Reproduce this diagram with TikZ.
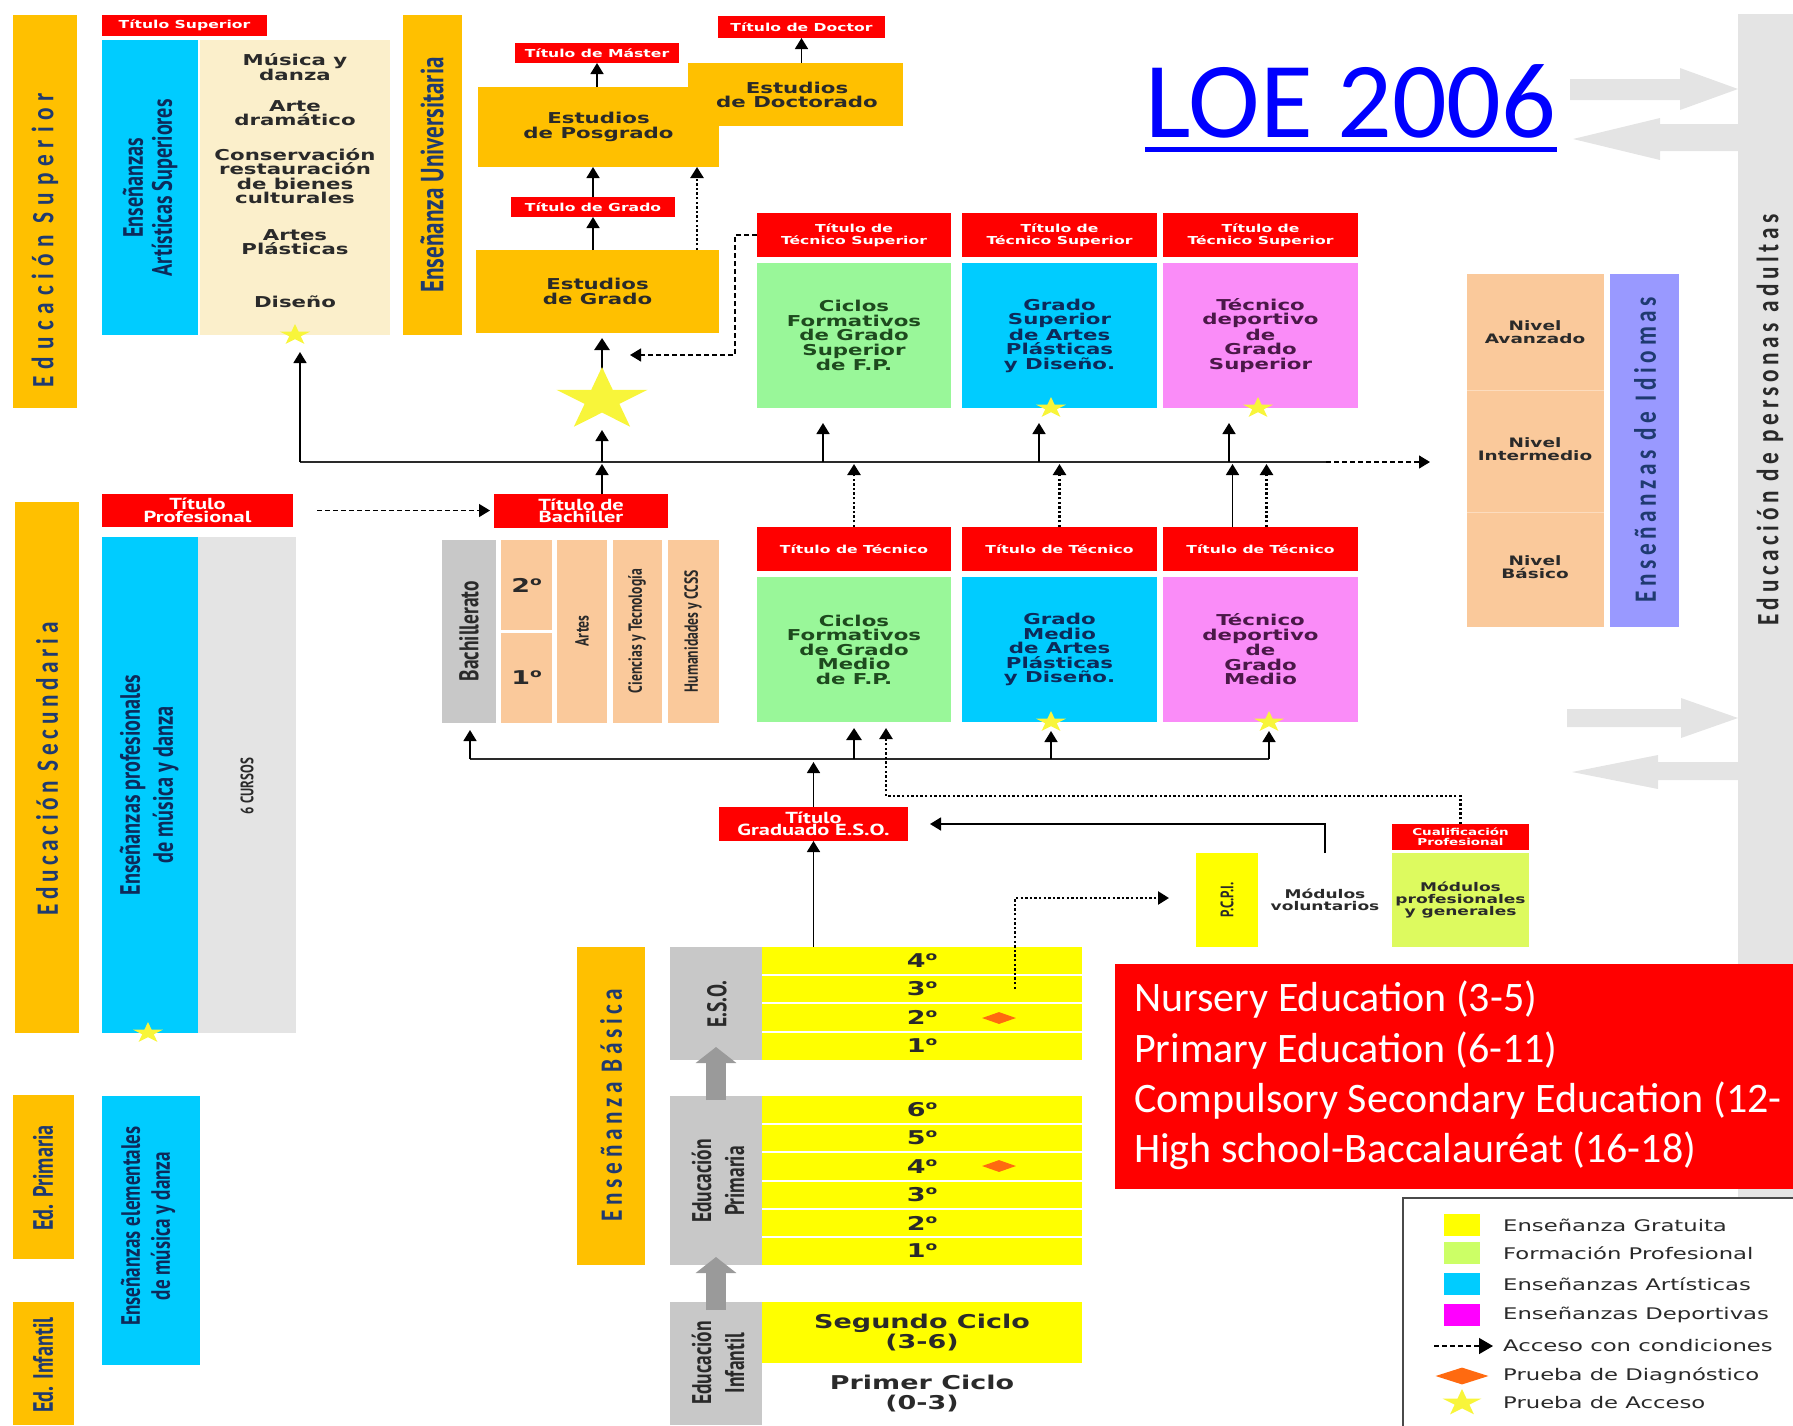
\documentclass[tikz,border=0pt]{standalone}
\usepackage{fontspec}
\usetikzlibrary{arrows.meta,calc,shapes.geometric}

\newfontfamily\vfont[FakeStretch=1.42]{DejaVu Sans}
\newfontfamily\mfont[FakeStretch=1.4]{PT Sans}
\newfontfamily\cfont[FakeStretch=0.72]{PT Sans}
\newfontfamily\sfont[FakeStretch=0.75,LetterSpace=15]{Carlito}
\newfontfamily\sfontw[FakeStretch=0.75,LetterSpace=22]{Carlito}
\newfontfamily\calfont{Carlito}
\newcommand\fsz[2]{\fontsize{#1}{#2}\selectfont}
% raised ordinal "o" without the underline of the font's own glyph
\newcommand\ordo{\raisebox{7pt}{\fontsize{12}{12}\selectfont o}}

\definecolor{goldc}{HTML}{FFC000}
\definecolor{redc}{HTML}{FF0000}
\definecolor{cyanc}{HTML}{00CCFF}
\definecolor{creamc}{HTML}{FBEFCB}
\definecolor{greenc}{HTML}{99F799}
\definecolor{pinkc}{HTML}{FA8CF8}
\definecolor{peachc}{HTML}{FAC99B}
\definecolor{purplec}{HTML}{9999FF}
\definecolor{yellowc}{HTML}{FFFF00}
\definecolor{ygc}{HTML}{DDFA5F}
\definecolor{greyc}{HTML}{C8C8C8}
\definecolor{lgreyc}{HTML}{E4E4E4}
\definecolor{arrgrey}{HTML}{9A9A9A}
\definecolor{navyc}{HTML}{1F3A70}
\definecolor{darkc}{HTML}{2A2A2A}
\definecolor{dgreen}{HTML}{1E4A1E}
\definecolor{dblue}{HTML}{0D2A5A}
\definecolor{dpurple}{HTML}{4A1848}
\definecolor{starc}{HTML}{F8F53A}
\definecolor{diamc}{HTML}{FF6A10}
\definecolor{loeblue}{HTML}{0000FF}
\definecolor{fpc}{HTML}{CCFF66}
\definecolor{magc}{HTML}{FF00FF}

% box from corner (x1,y1) to (x2,y2), y measured downwards
\newcommand\bx[7]{\node[bx,#6,minimum width={(#4-#2)*1pt},minimum height={(#5-#3)*1pt}] (#1) at (#2,#3) {#7};}

\tikzset{
  bx/.style={anchor=north west,inner sep=0pt,outer sep=0pt},
  redt/.style={fill=redc,text=white,align=center,font=\vfont\bfseries\fsz{11}{11.5}},
  redm/.style={fill=redc,text=white,align=center,font=\mfont\bfseries\fsz{16}{12.5}},
  boxt/.style={align=center,font=\vfont\bfseries\fsz{15}{14.5}},
  yrow/.style={fill=yellowc,text=darkc,font=\vfont\bfseries\fsz{19}{19}},
  rotc/.style={rotate=90,align=center,inner sep=0pt},
  spaced/.style={rotate=90,inner sep=0pt,text=navyc,font=\sfont\bfseries\fsz{31}{31}},
  lgt/.style={anchor=west,inner sep=0pt,text=darkc,font=\vfont\fsz{16}{16}},
  arr/.style={-{Triangle[width=13pt,length=11pt]},line width=1.6pt},
  arrk/.style={-{Triangle[width=15pt,length=12pt]},line width=2.8pt},
  dotl/.style={line width=2.4pt,dash pattern=on 2.4pt off 2.2pt},
  dashl/.style={line width=1.3pt,dash pattern=on 5pt off 3pt},
  pics/ystar/.style={code={
    \fill[starc,xscale=1.45] (-90:#1) -- (-54:{0.382*#1}) -- (-18:#1) -- (18:{0.382*#1})
      -- (54:#1) -- (90:{0.382*#1}) -- (126:#1) -- (162:{0.382*#1}) -- (198:#1)
      -- (234:{0.382*#1}) -- cycle;}}
}

\begin{document}
\begin{tikzpicture}[x=1pt,y=-1pt]
\useasboundingbox (0,0) rectangle (1793,1425);

% ---------- adult education column ----------
\bx{adult}{1738}{14}{1793}{1200}{fill=lgreyc}{}
\node[spaced,text=darkc] (adultT) at (1770,420) {Educación de personas adultas};
\fill[lgreyc] (1570,79) -- (1680,79) -- (1680,68) -- (1738,89) -- (1680,110) -- (1680,100) -- (1570,100) -- cycle;
\fill[lgreyc] (1738,124) -- (1660,124) -- (1660,118) -- (1573,139) -- (1660,160) -- (1660,151) -- (1738,151) -- cycle;
\fill[lgreyc] (1567,709) -- (1681,709) -- (1681,698) -- (1738,718) -- (1681,738) -- (1681,727) -- (1567,727) -- cycle;
\fill[lgreyc] (1738,762) -- (1658,762) -- (1658,755) -- (1572,772) -- (1658,789) -- (1658,780) -- (1738,780) -- cycle;

% ---------- higher education ----------
\bx{supBar}{13}{15}{77}{408}{fill=goldc}{}
\node[spaced,font=\sfontw\bfseries\fsz{31}{31}] (supT) at (45,240) {Educación Superior};
\bx{tSup}{102}{15}{267}{36}{redt}{Título Superior}
\bx{artSup}{102}{40}{198}{335}{fill=cyanc}{}
\node[rotc,text=dblue,font=\cfont\bfseries\fsz{28}{29}] (artSupT) at (150,188) {Enseñanzas\\Artísticas Superiores};
\bx{artList}{200}{40}{390}{335}{fill=creamc}{}
\node[boxt,text=darkc] (mus) at (295,67) {Música y\\danza};
\node[boxt,text=darkc] (dram) at (295,113) {Arte\\dramático};
\node[boxt,text=darkc] (cons) at (295,176) {Conservación\\restauración\\de bienes\\culturales};
\node[boxt,text=darkc] (plas) at (295,242) {Artes\\Plásticas};
\node[boxt,text=darkc] (dis) at (295,302) {Diseño};

\bx{uniBar}{403}{15}{462}{335}{fill=goldc}{}
\node[rotc,text=navyc,font=\cfont\bfseries\fsz{32}{32}] (uniT) at (432,175) {Enseñanza Universitaria};

\bx{tDoctor}{718}{16}{885}{38}{redt}{Título de Doctor}
\bx{tMaster}{515}{43}{679}{63}{redt}{Título de Máster}
\bx{doct}{688}{63}{903}{126}{fill=goldc}{}
\bx{posg}{478}{87}{719}{167}{fill=goldc,boxt,text=darkc}{Estudios\\de Posgrado}
\node[boxt,text=darkc] (doctT) at (797,95) {Estudios\\de Doctorado};
\bx{tGrado}{511}{197}{675}{217}{redt}{Título de Grado}
\bx{grado}{476}{250}{719}{333}{fill=goldc,boxt,text=darkc}{Estudios\\de Grado}

\bx{tTS1}{757}{213}{951}{257}{redt}{Título de\\Técnico Superior}
\bx{tTS2}{962}{213}{1157}{257}{redt}{Título de\\Técnico Superior}
\bx{tTS3}{1163}{213}{1358}{257}{redt}{Título de\\Técnico Superior}
\bx{cfgs}{757}{263}{951}{408}{fill=greenc,boxt,text=dgreen}{Ciclos\\Formativos\\de Grado\\Superior\\de F.P.}
\bx{gsap}{962}{263}{1157}{408}{fill=cyanc,boxt,text=dblue}{Grado\\Superior\\de Artes\\Plásticas\\y Diseño.}
\bx{tdgs}{1163}{263}{1358}{408}{fill=pinkc,boxt,text=dpurple}{Técnico\\deportivo\\de\\Grado\\Superior}

% ---------- languages ----------
\bx{idio}{1467}{274}{1604}{627}{fill=peachc}{}
\draw[white!35!peachc,line width=1pt] (1467,390) -- (1604,390) (1467,512) -- (1604,512);
\node[font=\vfont\bfseries\fsz{13}{13},align=center,text=darkc] (nAv) at (1535,332) {Nivel\\Avanzado};
\node[font=\vfont\bfseries\fsz{13}{13},align=center,text=darkc] (nIn) at (1535,449) {Nivel\\Intermedio};
\node[font=\vfont\bfseries\fsz{13}{13},align=center,text=darkc] (nBa) at (1535,567) {Nivel\\Básico};
\bx{idiBar}{1610}{274}{1679}{627}{fill=purplec}{}
\node[spaced] (idiT) at (1645,450) {Enseñanzas de Idiomas};

% ---------- title ----------
\node[font=\calfont\fsz{108}{108},text=loeblue,inner sep=0pt,anchor=base] (loe) at (1351,137) {LOE 2006};
\draw[loeblue,line width=5pt] ($(loe.base west)+(0,12)$) -- ($(loe.base east)+(0,12)$);

% ---------- secondary education ----------
\bx{secBar}{15}{502}{79}{1033}{fill=goldc}{}
\node[spaced] (secT) at (47,769) {Educación Secundaria};
\bx{tProf}{102}{494}{293}{527}{redm}{Título\\Profesional}
\bx{epmd}{102}{537}{198}{1033}{fill=cyanc}{}
\node[rotc,text=dblue,font=\cfont\bfseries\fsz{28}{33}] (epmdT) at (149,785) {Enseñanzas profesionales\\de música y danza};
\bx{cursos}{198}{537}{296}{1033}{fill=lgreyc}{}
\node[rotc,text=darkc,font=\cfont\bfseries\fsz{18}{18}] (cursosT) at (247,786) {6 CURSOS};

\bx{tBach}{494}{494}{668}{528}{redm}{Título de\\Bachiller}
\bx{bach}{442}{540}{496}{723}{fill=greyc}{}
\node[rotc,text=darkc,font=\cfont\bfseries\fsz{27}{27}] (bachT) at (469,631) {Bachillerato};
\bx{b2}{501}{540}{552}{630}{fill=peachc,text=darkc,font=\vfont\bfseries\fsz{19}{19}}{2\ordo}
\bx{b1}{501}{633}{552}{723}{fill=peachc,text=darkc,font=\vfont\bfseries\fsz{19}{19}}{1\ordo}
\bx{artes}{557}{540}{607}{723}{fill=peachc}{}
\node[rotc,text=darkc,font=\cfont\bfseries\fsz{19}{19}] (artesT) at (582,631) {Artes};
\bx{cyt}{613}{540}{662}{723}{fill=peachc}{}
\node[rotc,text=darkc,font=\cfont\bfseries\fsz{19}{19}] (cytT) at (637,631) {Ciencias y Tecnología};
\bx{hcs}{668}{540}{719}{723}{fill=peachc}{}
\node[rotc,text=darkc,font=\cfont\bfseries\fsz{19}{19}] (hcsT) at (693,631) {Humanidades y CCSS};

\bx{tT1}{757}{527}{951}{571}{redt}{Título de Técnico}
\bx{tT2}{962}{527}{1157}{571}{redt}{Título de Técnico}
\bx{tT3}{1163}{527}{1358}{571}{redt}{Título de Técnico}
\bx{cfgm}{757}{577}{951}{722}{fill=greenc,boxt,text=dgreen}{Ciclos\\Formativos\\de Grado\\Medio\\de F.P.}
\bx{gmap}{962}{577}{1157}{722}{fill=cyanc,boxt,text=dblue}{Grado\\Medio\\de Artes\\Plásticas\\y Diseño.}
\bx{tdgm}{1163}{577}{1358}{722}{fill=pinkc,boxt,text=dpurple}{Técnico\\deportivo\\de\\Grado\\Medio}

\bx{tESO}{719}{807}{908}{841}{redm}{Título\\Graduado E.S.O.}
\bx{cual}{1392}{824}{1529}{850}{redt,font=\vfont\bfseries\fsz{9.5}{10}}{Cualificación\\Profesional}
\bx{pcpi}{1196}{853}{1258}{947}{fill=yellowc}{}
\node[rotc,text=darkc,font=\cfont\bfseries\fsz{18}{18}] (pcpiT) at (1227,900) {P.C.P.I.};
\bx{modv}{1258}{853}{1392}{947}{fill=white,align=center,text=darkc,font=\vfont\bfseries\fsz{12}{12}}{Módulos\\voluntarios}
\bx{modp}{1392}{853}{1529}{947}{fill=ygc,align=center,text=darkc,font=\vfont\bfseries\fsz{12}{12}}{Módulos\\profesionales\\y generales}

% ---------- basic education ----------
\bx{basBar}{577}{947}{645}{1265}{fill=goldc}{}
\node[spaced] (basT) at (611,1105) {Enseñanza Básica};
\bx{esoG}{670}{947}{762}{1060}{fill=greyc}{}
\node[rotc,text=darkc,font=\cfont\bfseries\fsz{27}{27}] (esoT) at (717,1004) {E.S.O.};
\bx{e4}{762}{947}{1082}{975}{yrow}{4\ordo}
\bx{e3}{762}{975}{1082}{1003}{yrow}{3\ordo}
\bx{e2}{762}{1003}{1082}{1032}{yrow}{2\ordo}
\bx{e1}{762}{1032}{1082}{1060}{yrow}{1\ordo}
\bx{primG}{670}{1096}{762}{1265}{fill=greyc}{}
\node[rotc,text=darkc,font=\cfont\bfseries\fsz{27}{33}] (primT) at (718,1181) {Educación\\Primaria};
\bx{p6}{762}{1096}{1082}{1124}{yrow}{6\ordo}
\bx{p5}{762}{1124}{1082}{1152}{yrow}{5\ordo}
\bx{p4}{762}{1152}{1082}{1181}{yrow}{4\ordo}
\bx{p3}{762}{1181}{1082}{1209}{yrow}{3\ordo}
\bx{p2}{762}{1209}{1082}{1237}{yrow}{2\ordo}
\bx{p1}{762}{1237}{1082}{1265}{yrow}{1\ordo}
\foreach \r in {e4,e3,e2,p6,p5,p4,p3,p2}{\draw[white,line width=1.2pt] (\r.south west) -- (\r.south east);}
\bx{infG}{670}{1302}{762}{1425}{fill=greyc}{}
\node[rotc,text=darkc,font=\cfont\bfseries\fsz{27}{33}] (infT) at (718,1363) {Educación\\Infantil};
\bx{seg}{762}{1302}{1082}{1363}{fill=yellowc,align=center,text=darkc,font=\vfont\bfseries\fsz{19}{20}}{Segundo Ciclo\\(3-6)}
\bx{prim1}{762}{1363}{1082}{1425}{fill=white,align=center,text=darkc,font=\vfont\bfseries\fsz{19}{20}}{Primer Ciclo\\(0-3)}
\draw[arrgrey,line width=20pt,-{Triangle[width=40pt,length=16pt]}] ($(primG.north)+(0,4)$) -- ($(esoG.south)+(0,-13)$);
\draw[arrgrey,line width=20pt,-{Triangle[width=40pt,length=16pt]}] ($(infG.north)+(0,8)$) -- ($(primG.south)+(0,-8)$);
\node[diamond,fill=diamc,minimum width=34pt,minimum height=12pt,inner sep=0pt] (dm1) at (999,1018) {};
\node[diamond,fill=diamc,minimum width=34pt,minimum height=12pt,inner sep=0pt] (dm2) at (999,1166) {};

% ---------- primary / infant bars on the left ----------
\bx{primBar}{13}{1095}{74}{1259}{fill=goldc}{}
\node[rotc,text=navyc,font=\cfont\bfseries\fsz{28}{28}] (primBarT) at (43,1178) {Ed. Primaria};
\bx{infBar}{13}{1302}{74}{1425}{fill=goldc}{}
\node[rotc,text=navyc,font=\cfont\bfseries\fsz{28}{28}] (infBarT) at (43,1365) {Ed. Infantil};
\bx{elem}{102}{1096}{200}{1365}{fill=cyanc}{}
\node[rotc,text=dblue,font=\cfont\bfseries\fsz{26.5}{30}] (elemT) at (148,1226) {Enseñanzas elementales\\de música y danza};

% ---------- English summary ----------
\bx{enBox}{1115}{964}{1793}{1189}{fill=redc}{}
\node[anchor=base west,inner sep=0pt,text=white,font=\calfont\fsz{42}{50}] (en1) at (1134,1011) {Nursery Education (3-5)};
\node[anchor=base west,inner sep=0pt,text=white,font=\calfont\fsz{42}{50}] (en2) at (1134,1062) {Primary Education (6-11)};
\node[anchor=base west,inner sep=0pt,text=white,font=\calfont\fsz{42}{50}] (en3) at (1134,1112) {Compulsory Secondary Education (12-};
\node[anchor=base west,inner sep=0pt,text=white,font=\calfont\fsz{42}{50}] (en4) at (1134,1162) {High school-Baccalauréat (16-18)};

% ---------- legend ----------
\bx{legend}{1403}{1198}{1800}{1432}{fill=white,draw=darkc!85,line width=1.5pt}{}
\bx{lg1}{1444}{1214}{1480}{1236}{fill=yellowc}{}
\bx{lg2}{1444}{1242}{1480}{1264}{fill=fpc}{}
\bx{lg3}{1444}{1273}{1480}{1295}{fill=cyanc}{}
\bx{lg4}{1444}{1304}{1480}{1326}{fill=magc}{}
\node[lgt] (lt1) at (1503,1225) {Enseñanza Gratuita};
\node[lgt] (lt2) at (1503,1253) {Formación Profesional};
\node[lgt] (lt3) at (1503,1284) {Enseñanzas Artísticas};
\node[lgt] (lt4) at (1503,1315) {Enseñanzas Deportivas};
\node[lgt] (lt5) at (1503,1346) {Acceso con condiciones};
\node[lgt] (lt6) at (1503,1376) {Prueba de Diagnóstico};
\node[lgt] (lt7) at (1503,1403) {Prueba de Acceso};
\coordinate (la0) at (1434,1346);
\coordinate (la1) at (1493,1346);
\draw[dashl,-{Triangle[width=16pt,length=14pt]}] (la0) -- (la1);
\node[diamond,fill=diamc,minimum width=53pt,minimum height=17pt,inner sep=0pt] (ld) at (1462,1376) {};

% ---------- connectors: higher education ----------
\draw[arr] (posg.north -| tMaster.south) -- (tMaster.south);
\draw[arr] (doct.north -| tDoctor.south) -- (tDoctor.south);
\draw[arr] (tGrado.north) -- (tGrado.north |- posg.south);
\draw[arr] (grado.north -| tGrado.south) -- (tGrado.south);
\draw[arr,dotl] ($(grado.north east)+(-22,0)$) -- ($(posg.south east)+(-22,0)$);
\coordinate (dk) at (735,355);
\coordinate (gradoIn) at (630,355);
\draw[arr,dashl] (tTS1.west) -| (dk) -- (gradoIn);

\coordinate (bigstar) at (602,400);
\draw[arrk,shorten >=5pt] ($(bigstar)+(0,-31)$) -- (grado.south -| bigstar);

% main access line under the higher-education block
\coordinate (L1w) at (300,462);
\coordinate (L1m) at (1326,462);
\coordinate (L1e) at (1430,462);
\draw[line width=1.6pt,draw=darkc] (L1w) -- (L1m);
\draw[arr,dashl] (L1m) -- (L1e);
\draw[arr,shorten >=17pt] (L1w) -- (artList.south -| L1w);
\draw[arr] (L1w -| bigstar) -- ($(bigstar)+(0,30)$);
\draw[arr,shorten >=2pt] (tBach.north -| bigstar) -- (L1w -| bigstar);
\coordinate (u1) at (823,408);
\coordinate (u2) at (1039,408);
\coordinate (u3) at (1229,408);
\draw[arr] (L1w -| u1) -- ($(u1)+(0,15)$);
\draw[arr] (L1w -| u2) -- ($(u2)+(0,15)$);
\draw[arr] (L1w -| u3) -- ($(u3)+(0,15)$);
\draw[arr,dotl,shorten >=2pt] (tT1.north) -- (tT1.north |- L1w);
\draw[arr,dotl,shorten >=2pt] (tT2.north) -- (tT2.north |- L1w);
\draw[arr,shorten >=2pt] ($(tT3.north)+(-28,0)$) -- ($(tT3.north |- L1w)+(-28,0)$);
\draw[arr,dotl,shorten >=2pt] ($(tT3.north)+(6,0)$) -- ($(tT3.north |- L1w)+(6,0)$);

% ---------- connectors: secondary ----------
\draw[arr,dashl,shorten <=24pt,shorten >=4pt] (tProf.east) -- (tProf.east -| tBach.west);
\coordinate (L2w) at (470,759);
\coordinate (L2e) at (1269,759);
\coordinate (s4) at (1051,722);
\coordinate (s6) at (1269,722);
\draw[line width=1.6pt,draw=darkc] (L2w) -- (L2e);
\draw[arr,shorten >=7pt] (L2w) -- (L2w |- bach.south);
\draw[arrk,shorten >=6pt] (L2w -| cfgm.south) -- (cfgm.south);
\draw[arr] (L2w -| s4) -- ($(s4)+(0,9)$);
\draw[arr] (L2e) -- ($(s6)+(0,9)$);
\draw[arr,shorten >=3pt] (tESO.north) -- (tESO.north |- L2w);
\draw[arr] (e4.north -| tESO.south) -- (tESO.south);
\coordinate (d1) at (886,796);
\draw[arr,dotl,shorten >=6pt] (cual.north) |- (d1) -- (d1 |- cfgm.south);
\draw[arr,shorten >=22pt] (modv.north) |- (tESO.east);
\coordinate (d2) at (1015,898);
\draw[arr,dotl,shorten >=27pt] (e3.center -| d2) -- (d2) -- (d2 -| pcpi.west);

% ---------- access-test stars ----------
\pic at (295,335) {ystar=11};
\pic at (148,1033) {ystar=11};
\pic at (1051,408) {ystar=11};
\pic at (1258,408) {ystar=11};
\pic at (1051,722) {ystar=11};
\pic at (1269,722) {ystar=11};
\pic at (bigstar) {ystar=33};
\pic at (1462,1403) {ystar=14};
\end{tikzpicture}
\end{document}
